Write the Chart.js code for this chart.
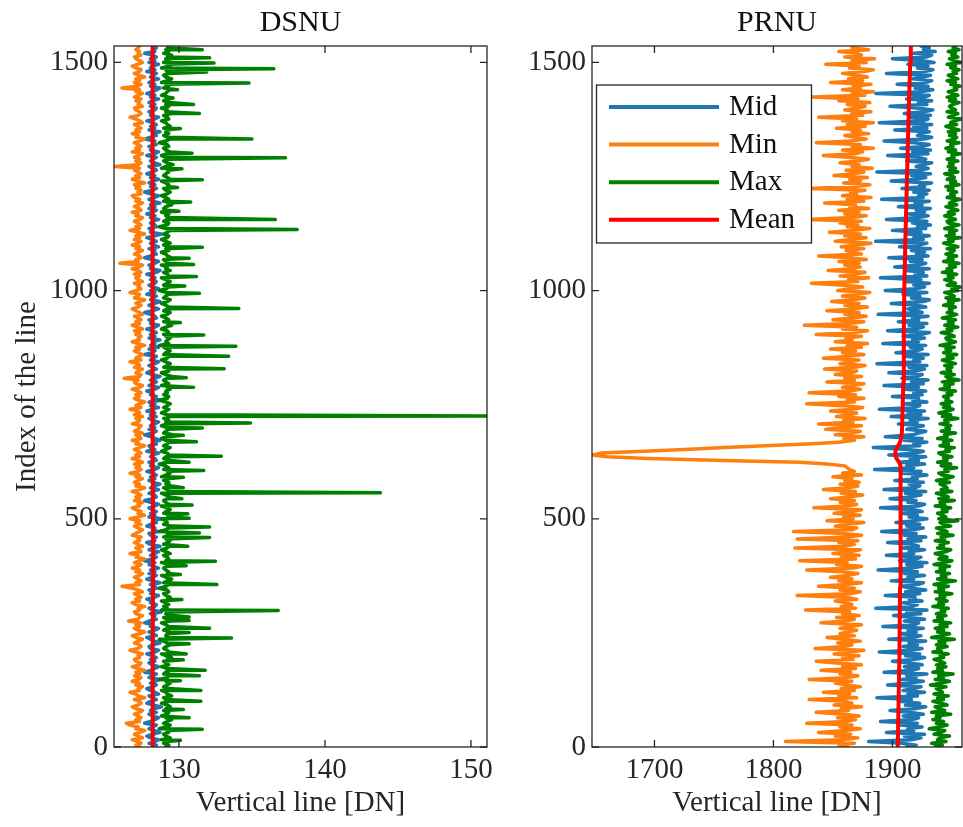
<!DOCTYPE html>
<html lang="en">
<head>
  <meta charset="UTF-8" />
  <title>DSNU / PRNU</title>
  <script src="https://cdn.jsdelivr.net/npm/chart.js"></script>
  <style>
    body { margin: 0; background: #fff; }
    .panel { position: absolute; top: 0; }
    #leftPanel { left: 0; }
    #rightPanel { left: 490px; }
  </style>
</head>
<body>
  <div class="panel" id="leftPanel"><canvas id="dsnuChart" width="500" height="827"></canvas></div>
  <div class="panel" id="rightPanel"><canvas id="prnuChart" width="473" height="827"></canvas></div>

  <script>
    // index of the line (sampled every 4 lines)
    const lineIdx = [
      0, 4, 8, 12, 16, 20, 24, 28, 32, 36, 40, 44, 48, 52, 56, 60,
      64, 68, 72, 76, 80, 84, 88, 92, 96, 100, 104, 108, 112, 116, 120, 124,
      128, 132, 136, 140, 144, 148, 152, 156, 160, 164, 168, 172, 176, 180, 184, 188,
      192, 196, 200, 204, 208, 212, 216, 220, 224, 228, 232, 236, 240, 244, 248, 252,
      256, 260, 264, 268, 272, 276, 280, 284, 288, 292, 296, 300, 304, 308, 312, 316,
      320, 324, 328, 332, 336, 340, 344, 348, 352, 356, 360, 364, 368, 372, 376, 380,
      384, 388, 392, 396, 400, 404, 408, 412, 416, 420, 424, 428, 432, 436, 440, 444,
      448, 452, 456, 460, 464, 468, 472, 476, 480, 484, 488, 492, 496, 500, 504, 508,
      512, 516, 520, 524, 528, 532, 536, 540, 544, 548, 552, 556, 560, 564, 568, 572,
      576, 580, 584, 588, 592, 596, 600, 604, 608, 612, 616, 620, 624, 628, 632, 636,
      640, 644, 648, 652, 656, 660, 664, 668, 672, 676, 680, 684, 688, 692, 696, 700,
      704, 708, 712, 716, 720, 724, 728, 732, 736, 740, 744, 748, 752, 756, 760, 764,
      768, 772, 776, 780, 784, 788, 792, 796, 800, 804, 808, 812, 816, 820, 824, 828,
      832, 836, 840, 844, 848, 852, 856, 860, 864, 868, 872, 876, 880, 884, 888, 892,
      896, 900, 904, 908, 912, 916, 920, 924, 928, 932, 936, 940, 944, 948, 952, 956,
      960, 964, 968, 972, 976, 980, 984, 988, 992, 996, 1000, 1004, 1008, 1012, 1016, 1020,
      1024, 1028, 1032, 1036, 1040, 1044, 1048, 1052, 1056, 1060, 1064, 1068, 1072, 1076, 1080, 1084,
      1088, 1092, 1096, 1100, 1104, 1108, 1112, 1116, 1120, 1124, 1128, 1132, 1136, 1140, 1144, 1148,
      1152, 1156, 1160, 1164, 1168, 1172, 1176, 1180, 1184, 1188, 1192, 1196, 1200, 1204, 1208, 1212,
      1216, 1220, 1224, 1228, 1232, 1236, 1240, 1244, 1248, 1252, 1256, 1260, 1264, 1268, 1272, 1276,
      1280, 1284, 1288, 1292, 1296, 1300, 1304, 1308, 1312, 1316, 1320, 1324, 1328, 1332, 1336, 1340,
      1344, 1348, 1352, 1356, 1360, 1364, 1368, 1372, 1376, 1380, 1384, 1388, 1392, 1396, 1400, 1404,
      1408, 1412, 1416, 1420, 1424, 1428, 1432, 1436, 1440, 1444, 1448, 1452, 1456, 1460, 1464, 1468,
      1472, 1476, 1480, 1484, 1488, 1492, 1496, 1500, 1504, 1508, 1512, 1516, 1520, 1524, 1528, 1532,
      1536
    ];

    // ---- DSNU ----
    const dsnuMid = [
      128.2, 128.45, 127.95, 128.35, 128.6, 128.05, 127.8, 128.2, 128.7, 128.35, 127.95, 128.2, 128.45, 127.65, 128.05, 128.35,
      128.6, 128.2, 127.95, 128.45, 128.05, 128.35, 128.8, 128.2, 127.8, 128.05, 128.45, 128.2, 127.95, 128.6, 128.35, 128.05,
      127.8, 128.2, 128.45, 128.05, 128.35, 128.7, 127.95, 128.2, 128.45, 127.65, 128.05, 128.35, 128.6, 128.2, 127.95, 128.35,
      128.05, 128.45, 128.2, 127.8, 128.35, 128.6, 128.05, 127.95, 128.2, 128.7, 128.35, 128.05, 127.8, 128.45, 128.2, 127.95,
      128.35, 128.6, 128.05, 128.2, 127.65, 127.95, 128.45, 128.2, 128.35, 128.05, 128.8, 128.2, 127.95, 128.35, 128.45, 128.05,
      128.2, 127.8, 128.35, 128.6, 128.05, 128.2, 127.95, 128.45, 128.35, 128.05, 128.7, 128.2, 127.8, 128.2, 128.45, 127.95,
      128.35, 128.05, 128.6, 128.2, 127.95, 128.35, 127.65, 128.2, 128.45, 128.05, 128.35, 128.6, 127.95, 128.2, 128.7, 128.05,
      127.8, 128.35, 128.2, 128.45, 128.05, 127.95, 128.6, 128.2, 128.35, 127.8, 128.05, 128.45, 128.2, 128.8, 127.95, 128.35,
      128.05, 128.45, 128.2, 127.95, 128.35, 128.6, 128.05, 127.65, 128.2, 128.45, 128.35, 127.95, 128.2, 128.6, 128.05, 128.35,
      128.7, 128.2, 127.95, 128.35, 128.05, 128.45, 128.2, 127.8, 128.35, 128.6, 128.05, 128.2, 127.95, 128.45, 128.35, 128.05,
      128.2, 128.6, 127.8, 128.35, 128.05, 127.95, 128.45, 128.2, 128.7, 128.35, 128.05, 127.65, 128.2, 128.45, 127.95, 128.35,
      128.05, 128.35, 128.6, 128.2, 127.95, 128.45, 128.05, 128.35, 127.8, 128.2, 128.6, 128.05, 128.35, 127.95, 128.8, 128.2,
      128.45, 128.05, 128.2, 127.8, 128.35, 128.6, 127.95, 128.2, 128.45, 128.05, 128.35, 128.7, 128.2, 127.8, 128.05, 128.45,
      128.2, 127.95, 128.35, 128.6, 128.05, 128.2, 128.45, 127.65, 128.2, 128.35, 127.95, 128.6, 128.05, 128.35, 128.2, 128.7,
      127.95, 128.35, 128.05, 128.45, 128.2, 127.8, 128.35, 128.6, 128.05, 128.2, 127.95, 128.45, 128.35, 128.05, 127.65, 128.2,
      128.6, 128.2, 127.95, 128.35, 128.7, 128.05, 128.2, 128.45, 127.8, 128.35, 128.05, 128.6, 128.2, 127.95, 128.35, 128.45,
      128.05, 128.35, 128.2, 127.8, 128.45, 128.7, 128.05, 128.2, 127.95, 128.35, 128.6, 128.2, 127.65, 128.05, 128.45, 128.2,
      128.35, 127.95, 128.6, 128.2, 128.05, 128.45, 128.2, 127.8, 128.35, 128.8, 128.05, 128.2, 127.95, 128.45, 128.35, 128.05,
      128.2, 128.6, 128.05, 128.35, 127.8, 128.2, 128.45, 127.95, 128.35, 128.05, 128.7, 128.2, 127.95, 128.35, 128.6, 128.05,
      127.65, 128.2, 128.45, 128.05, 128.35, 127.95, 128.2, 128.6, 128.05, 128.35, 127.8, 128.2, 128.45, 128.2, 127.95, 128.7,
      128.35, 128.05, 128.2, 128.45, 127.8, 128.35, 128.6, 128.05, 128.2, 127.95, 128.45, 128.2, 128.35, 127.65, 128.05, 128.45,
      128.2, 128.7, 127.95, 128.35, 128.05, 128.45, 128.2, 127.8, 128.35, 128.6, 128.05, 128.2, 127.95, 128.35, 128.45, 128.05,
      128.35, 127.95, 128.2, 128.6, 128.05, 128.35, 127.8, 128.2, 128.45, 128.7, 128.05, 128.35, 127.95, 128.2, 128.6, 128.05,
      128.2, 128.45, 127.8, 128.35, 128.05, 128.2, 128.6, 127.95, 128.35, 128.05, 128.45, 128.2, 127.65, 128.35, 128.2, 128.45,
      128.2
    ];
    const dsnuMin = [
      127.3, 127.05, 127.4, 127.2, 126.8, 127.5, 127.2, 126.95, 127.3, 127.65, 127.05, 127.2, 126.65, 126.4, 127.3, 127.05,
      127.4, 127.2, 126.95, 127.3, 127.5, 127.05, 126.8, 127.2, 127.4, 127.3, 126.95, 127.65, 127.2, 127.05, 126.65, 127.3,
      127.2, 127.5, 127.05, 127.3, 126.8, 127.2, 127.4, 126.95, 127.3, 127.05, 127.65, 127.2, 126.8, 127.3, 127.4, 127.05,
      126.95, 127.3, 127.2, 127.5, 127.05, 126.65, 127.2, 127.4, 127.3, 126.95, 127.2, 127.5, 127.05, 126.8, 127.3, 127.65,
      127.2, 126.95, 127.3, 127.05, 127.4, 126.55, 127.2, 127.3, 127.5, 127.05, 126.95, 127.3, 127.2, 127.65, 127.05, 126.8,
      127.3, 127.05, 127.4, 127.2, 126.95, 127.5, 127.2, 126.8, 126.1, 127.3, 127.05, 127.4, 127.2, 126.95, 127.3, 127.5,
      127.05, 127.3, 126.8, 127.2, 127.4, 126.95, 127.3, 127.65, 127.05, 127.2, 126.65, 127.4, 127.3, 127.05, 127.5, 127.2,
      126.95, 127.3, 127.2, 127.4, 126.8, 127.05, 127.3, 127.5, 127.2, 126.95, 127.4, 127.05, 127.3, 126.65, 127.2, 127.65,
      127.2, 127.4, 127.05, 126.8, 127.3, 127.2, 127.5, 126.95, 127.3, 127.05, 127.4, 127.2, 126.8, 127.3, 127.65, 127.05,
      127.3, 126.95, 127.2, 127.5, 127.05, 127.3, 126.65, 127.2, 127.4, 127.05, 127.3, 126.95, 127.5, 127.2, 126.8, 127.3,
      127.05, 127.4, 127.2, 126.95, 127.3, 127.65, 127.05, 127.2, 126.8, 127.4, 127.3, 127.05, 127.5, 126.95, 127.2, 127.3,
      127.4, 126.8, 127.2, 127.3, 127.05, 127.5, 126.95, 127.3, 127.2, 126.65, 127.4, 127.05, 127.3, 127.65, 127.2, 126.95,
      127.3, 127.05, 127.4, 127.2, 126.8, 127.3, 127.5, 127.05, 126.95, 127.2, 126.25, 127.3, 127.4, 127.05, 127.2, 127.5,
      126.95, 127.3, 127.2, 126.65, 127.4, 127.05, 127.3, 127.5, 127.2, 126.95, 127.3, 127.05, 127.65, 127.2, 126.8, 127.3,
      127.2, 127.4, 127.05, 127.3, 126.95, 127.5, 127.2, 126.8, 127.3, 127.05, 127.4, 127.2, 126.95, 127.5, 127.3, 127.05,
      126.8, 127.2, 127.4, 127.05, 127.3, 127.65, 126.95, 127.2, 127.3, 126.65, 127.05, 127.4, 127.2, 127.3, 126.95, 127.5,
      127.2, 127.05, 127.3, 126.95, 127.4, 127.2, 126.8, 127.3, 127.5, 125.95, 127.2, 127.05, 127.4, 127.3, 126.95, 127.2,
      127.5, 127.05, 127.3, 126.8, 127.2, 127.4, 126.95, 127.3, 127.05, 127.65, 127.2, 126.65, 127.3, 127.05, 127.4, 127.2,
      126.95, 127.3, 127.5, 127.05, 127.2, 126.8, 127.4, 127.3, 126.95, 127.2, 127.5, 127.05, 127.3, 126.95, 126.8, 127.4,
      127.2, 127.4, 127.05, 127.3, 126.95, 127.65, 127.2, 126.8, 127.3, 127.05, 127.4, 127.2, 126.95, 127.3, 125.55, 127.2,
      127.4, 127.05, 127.3, 126.95, 127.2, 127.5, 126.8, 127.3, 127.05, 127.4, 127.2, 126.95, 127.3, 127.65, 127.05, 127.2,
      126.8, 127.3, 127.05, 127.4, 127.2, 126.95, 127.5, 127.3, 127.05, 126.65, 127.2, 127.4, 127.3, 127.05, 126.95, 127.5,
      127.2, 127.3, 127.05, 127.4, 126.95, 127.2, 127.5, 127.05, 127.3, 126.1, 127.2, 127.4, 126.95, 127.3, 127.05, 127.65,
      127.2, 126.95, 127.3, 127.4, 127.05, 126.8, 127.2, 127.5, 127.3, 127.05, 126.95, 127.4, 127.2, 127.3, 127.05, 127.2,
      127.3
    ];
    const dsnuMax = [
      129.1, 129.3, 128.95, 129.2, 128.8, 129.4, 129.1, 128.95, 129.3, 129.2, 128.65, 129.1, 129.4, 128.95, 129.2, 129.5,
      129.1, 128.8, 129.2, 129.3, 128.95, 129.1, 129.4, 129.2, 128.8, 129.3, 129.1, 128.95, 129.5, 129.2, 129.1, 128.8,
      129.3, 128.95, 129.2, 129.4, 129.1, 128.65, 129.2, 129.3, 128.95, 129.1, 129.4, 129.2, 128.8, 129.3, 129.1, 128.95,
      129.2, 129.5, 129.1, 128.8, 129.3, 129.2, 128.95, 129.1, 129.4, 129.2, 128.95, 128.65, 129.3, 129.1, 129.2, 129.4,
      128.95, 129.2, 129.3, 129.1, 128.8, 129.4, 129.2, 128.95, 129.6, 129.1, 129.3, 128.8, 129.2, 128.95, 129.3, 129.1,
      128.8, 129.2, 129.4, 129.1, 128.95, 129.3, 129.2, 128.65, 129.1, 129.3, 128.95, 129.2, 129.5, 129.1, 128.8, 129.2,
      129.3, 129.1, 128.95, 129.2, 129.4, 128.8, 129.1, 129.3, 129.2, 128.95, 129.4, 129.1, 128.8, 129.2, 129.3, 128.95,
      129.2, 129.4, 129.1, 128.95, 129.3, 129.2, 128.65, 129.1, 129.3, 129.5, 128.95, 129.2, 129.1, 128.8, 129.3, 129.2,
      128.95, 129.1, 129.4, 129.2, 128.8, 129.3, 129.1, 128.95, 129.2, 129.4, 129.1, 128.8, 129.3, 129.2, 128.95, 129.5,
      129.1, 129.3, 128.95, 129.2, 128.8, 129.1, 129.4, 129.2, 128.95, 129.3, 129.1, 128.65, 129.2, 129.4, 128.95, 129.1,
      129.3, 129.2, 128.8, 129.1, 129.4, 128.95, 129.2, 129.3, 129.1, 128.8, 129.2, 129.6, 128.95, 129.1, 129.3, 129.2,
      128.8, 129.2, 129.1, 129.3, 128.95, 129.4, 129.2, 128.8, 129.1, 129.3, 128.95, 129.2, 129.4, 129.1, 128.65, 129.2,
      129.3, 128.95, 129.2, 129.1, 129.4, 129.2, 128.8, 129.3, 129.1, 128.95, 129.2, 129.5, 129.1, 128.8, 129.3, 129.2,
      128.95, 129.2, 129.4, 129.1, 128.8, 129.2, 129.3, 128.95, 129.1, 129.4, 129.2, 128.95, 128.65, 129.3, 129.1, 129.2,
      129.4, 129.1, 128.95, 129.3, 129.2, 128.8, 129.1, 129.5, 129.2, 128.95, 129.3, 129.1, 128.8, 129.2, 129.4, 128.95,
      129.2, 129.3, 129.1, 128.8, 129.2, 129.4, 128.95, 129.1, 129.3, 129.2, 128.65, 129.1, 129.3, 128.95, 129.2, 129.4,
      129.1, 128.8, 129.3, 129.2, 128.95, 129.4, 129.1, 129.2, 128.8, 129.3, 129.1, 128.95, 129.5, 129.2, 129.1, 128.8,
      129.3, 129.1, 129.2, 128.95, 129.4, 129.1, 128.8, 129.2, 129.3, 128.95, 129.2, 129.4, 129.1, 128.65, 129.2, 129.3,
      128.95, 129.2, 129.4, 129.1, 129.3, 128.8, 129.2, 128.95, 129.1, 129.5, 129.2, 128.95, 129.3, 129.1, 128.8, 129.2,
      129.4, 129.1, 128.95, 129.2, 129.3, 129.1, 128.8, 129.4, 129.2, 128.95, 129.1, 129.3, 129.2, 128.8, 129.1, 129.6,
      129.2, 128.95, 129.3, 129.1, 128.8, 129.2, 129.4, 129.1, 128.95, 129.3, 129.2, 128.65, 129.1, 129.4, 129.2, 128.95,
      129.3, 129.1, 129.2, 128.95, 129.4, 129.2, 129.1, 128.8, 129.3, 129.2, 128.95, 129.5, 129.1, 129.2, 128.8, 129.3,
      129.1, 129.4, 128.95, 129.2, 129.3, 128.8, 129.1, 129.2, 129.4, 128.95, 129.3, 129.1, 128.8, 129.2, 129.5, 129.1,
      128.95, 129.3, 129.2, 129.1, 128.8, 129.4, 129.2, 128.95, 129.3, 129.1, 129.2, 129.5, 128.95, 129.3, 129.1, 129.2,
      129.3
    ];
    // single-line spikes of the Max curve
    const dsnuMaxSpikeIdx = [
      15, 39, 64, 82, 100, 124, 145, 156, 168, 191, 204, 226, 239, 251, 260, 277, 285, 299, 323, 356,
      378, 397, 407, 440, 459, 469, 482, 501, 511, 530, 544, 557, 568, 591, 606, 624, 637, 669, 683, 699,
      710, 725, 788, 809, 829, 856, 878, 903, 930, 961, 994, 1010, 1031, 1057, 1071, 1095, 1134, 1156, 1174, 1194,
      1226, 1243, 1267, 1291, 1301, 1332, 1355, 1388, 1408, 1422, 1440, 1455, 1479, 1486, 1499, 1510, 1528
    ];
    const dsnuMaxSpikeVal = [
      130.1, 131.6, 130.7, 130.3, 131.5, 131.5, 130.1, 131.4, 131.8, 130.3, 130.5, 130.7, 133.6, 130.7, 132.1, 130.7, 130.7, 136.8, 130.2, 132.6,
      130.1, 130.5, 132.5, 130.6, 132.1, 131.4, 132.1, 130.7, 130.6, 130.9, 130.2, 143.8, 130.3, 130.3, 131.7, 130.7, 132.9, 131.2, 130.3, 131.6,
      134.9, 151.1, 131.0, 130.5, 133.1, 133.4, 133.9, 131.7, 130.1, 134.1, 131.4, 130.4, 131.2, 131.0, 130.7, 131.6, 138.1, 136.6, 130.0, 130.8,
      129.9, 131.6, 130.2, 137.3, 130.9, 135.0, 130.1, 131.4, 131.0, 129.6, 129.9, 134.8, 131.9, 136.5, 132.4, 132.1, 131.6
    ];
    const dsnuMeanIdx = [0, 200, 400, 600, 800, 1000, 1200, 1400, 1536];
    const dsnuMean = [128.21, 128.20, 128.23, 128.21, 128.19, 128.22, 128.18, 128.20, 128.17];

    // ---- PRNU ----
    const prnuMid = [
      1912, 1920, 1908, 1880, 1916, 1924, 1910, 1927, 1895, 1918, 1913, 1925, 1907, 1921, 1890, 1917,
      1922, 1909, 1926, 1914, 1898, 1919, 1928, 1911, 1923, 1906, 1916, 1887, 1921, 1913, 1927, 1909,
      1918, 1924, 1896, 1915, 1926, 1908, 1920, 1912, 1929, 1893, 1917, 1922, 1910, 1925, 1914, 1900,
      1919, 1927, 1911, 1923, 1889, 1916, 1925, 1909, 1921, 1914, 1928, 1897, 1918, 1924, 1907, 1920,
      1913, 1926, 1892, 1919, 1922, 1910, 1927, 1915, 1901, 1924, 1912, 1929, 1886, 1917, 1921, 1909,
      1925, 1914, 1919, 1894, 1923, 1911, 1928, 1916, 1908, 1921, 1926, 1899, 1918, 1913, 1927, 1910,
      1921, 1888, 1916, 1925, 1912, 1929, 1906, 1920, 1924, 1895, 1918, 1914, 1927, 1909, 1922, 1917,
      1896, 1924, 1913, 1928, 1910, 1920, 1891, 1917, 1926, 1912, 1923, 1903, 1919, 1929, 1914, 1921,
      1908, 1925, 1918, 1890, 1922, 1927, 1913, 1920, 1898, 1916, 1924, 1911, 1928, 1893, 1919, 1923,
      1914, 1926, 1902, 1921, 1917, 1929, 1909, 1924, 1885, 1918, 1912, 1927, 1906, 1922, 1915, 1928,
      1897, 1920, 1926, 1913, 1884, 1923, 1918, 1929, 1910, 1925, 1894, 1917, 1922, 1928, 1912, 1919,
      1926, 1905, 1921, 1915, 1930, 1899, 1924, 1913, 1927, 1889, 1919, 1923, 1910, 1929, 1917, 1922,
      1900, 1925, 1918, 1928, 1911, 1922, 1893, 1926, 1916, 1930, 1908, 1921, 1925, 1897, 1919, 1927,
      1914, 1929, 1887, 1923, 1918, 1926, 1911, 1930, 1903, 1920, 1925, 1915, 1928, 1892, 1922, 1917,
      1927, 1909, 1924, 1931, 1896, 1919, 1926, 1914, 1929, 1905, 1922, 1917, 1930, 1888, 1925, 1920,
      1913, 1928, 1921, 1899, 1926, 1931, 1916, 1923, 1909, 1929, 1894, 1920, 1927, 1918, 1931, 1911,
      1924, 1890, 1929, 1919, 1926, 1912, 1931, 1902, 1922, 1928, 1915, 1925, 1897, 1930, 1920, 1927,
      1916, 1932, 1906, 1923, 1929, 1886, 1926, 1918, 1931, 1913, 1924, 1900, 1928, 1921, 1932, 1917,
      1929, 1895, 1922, 1930, 1914, 1927, 1920, 1932, 1905, 1925, 1919, 1931, 1891, 1926, 1922, 1929,
      1918, 1931, 1908, 1927, 1923, 1933, 1899, 1921, 1928, 1916, 1932, 1887, 1925, 1930, 1920, 1926,
      1933, 1912, 1928, 1922, 1896, 1930, 1917, 1932, 1907, 1926, 1931, 1919, 1893, 1927, 1933, 1921,
      1924, 1931, 1902, 1929, 1918, 1933, 1889, 1926, 1930, 1915, 1932, 1910, 1927, 1934, 1920, 1898,
      1929, 1922, 1933, 1912, 1927, 1931, 1886, 1925, 1934, 1919, 1930, 1904, 1928, 1933, 1917, 1926,
      1932, 1895, 1927, 1934, 1921, 1930, 1913, 1935, 1924, 1900, 1929, 1933, 1918, 1936, 1926, 1931,
      1924
    ];
    const prnuMin = [
      1862, 1855, 1868, 1810, 1858, 1871, 1852, 1865, 1838, 1860, 1873, 1856, 1866, 1828, 1861, 1869,
      1854, 1872, 1859, 1836, 1863, 1857, 1874, 1851, 1866, 1860, 1830, 1870, 1855, 1864, 1842, 1868,
      1857, 1873, 1861, 1852, 1866, 1830, 1862, 1871, 1856, 1865, 1840, 1869, 1858, 1874, 1853, 1836,
      1867, 1858, 1872, 1851, 1864, 1876, 1835, 1860, 1866, 1854, 1873, 1859, 1845, 1868, 1856, 1862,
      1870, 1856, 1865, 1874, 1840, 1861, 1868, 1853, 1872, 1858, 1864, 1827, 1869, 1857, 1866, 1862,
      1852, 1870, 1860, 1820, 1865, 1873, 1856, 1868, 1838, 1861, 1874, 1855, 1866, 1848, 1863, 1871,
      1858, 1828, 1867, 1874, 1853, 1862, 1822, 1869, 1857, 1872, 1850, 1864, 1873, 1818, 1860, 1868,
      1855, 1871, 1820, 1863, 1874, 1858, 1817, 1866, 1870, 1852, 1862, 1876, 1845, 1867, 1859, 1873,
      1851, 1866, 1874, 1834, 1862, 1870, 1856, 1868, 1848, 1864, 1875, 1857, 1869, 1842, 1863, 1871,
      1856, 1872, 1860, 1866, 1850, 1874, 1858, 1868, 1864, 1862, 1860, 1845, 1822, 1758, 1695, 1660,
      1648, 1655, 1691, 1725, 1759, 1793, 1828, 1855, 1868, 1859, 1876, 1852, 1866, 1873, 1844, 1862,
      1874, 1838, 1867, 1859, 1877, 1853, 1864, 1870, 1848, 1866, 1875, 1858, 1828, 1868, 1862, 1876,
      1855, 1869, 1830, 1864, 1873, 1858, 1866, 1876, 1845, 1868, 1860, 1874, 1852, 1866, 1870, 1843,
      1868, 1877, 1856, 1864, 1872, 1842, 1863, 1876, 1858, 1869, 1848, 1874, 1862, 1879, 1852, 1866,
      1861, 1874, 1836, 1867, 1879, 1858, 1870, 1826, 1863, 1876, 1850, 1866, 1878, 1860, 1872, 1845,
      1868, 1879, 1860, 1872, 1849, 1866, 1877, 1858, 1870, 1881, 1854, 1864, 1875, 1859, 1832, 1871,
      1863, 1880, 1856, 1869, 1877, 1846, 1866, 1873, 1860, 1872, 1855, 1878, 1864, 1838, 1874, 1868,
      1861, 1876, 1857, 1870, 1882, 1852, 1866, 1878, 1860, 1873, 1847, 1867, 1881, 1862, 1871, 1856,
      1874, 1828, 1866, 1878, 1860, 1872, 1855, 1880, 1864, 1869, 1843, 1876, 1862, 1882, 1858, 1870,
      1865, 1877, 1830, 1869, 1881, 1859, 1873, 1864, 1879, 1851, 1868, 1876, 1861, 1883, 1866, 1872,
      1856, 1871, 1880, 1862, 1842, 1869, 1875, 1858, 1884, 1866, 1873, 1836, 1864, 1878, 1869, 1860,
      1880, 1866, 1873, 1853, 1877, 1862, 1884, 1858, 1870, 1838, 1875, 1866, 1882, 1860, 1871, 1877,
      1862, 1881, 1855, 1871, 1833, 1877, 1866, 1884, 1858, 1873, 1867, 1882, 1848, 1875, 1863, 1879,
      1869, 1858, 1876, 1884, 1864, 1872, 1844, 1878, 1866, 1885, 1860, 1874, 1870, 1855, 1880, 1866,
      1868
    ];
    const prnuMax = [
      1936, 1942, 1933, 1945, 1938, 1940, 1948, 1935, 1941, 1944, 1931, 1939, 1946, 1937, 1943, 1934,
      1940, 1937, 1949, 1933, 1944, 1939, 1936, 1946, 1941, 1934, 1943, 1938, 1947, 1935, 1942, 1940,
      1937, 1945, 1932, 1941, 1948, 1936, 1943, 1939, 1951, 1934, 1942, 1938, 1945, 1937, 1944, 1940,
      1935, 1943, 1940, 1947, 1934, 1941, 1938, 1946, 1937, 1944, 1939, 1952, 1933, 1942, 1948, 1938,
      1943, 1936, 1946, 1940, 1949, 1935, 1942, 1938, 1945, 1937, 1944, 1941, 1947, 1934, 1943, 1939,
      1946, 1937, 1944, 1940, 1950, 1936, 1943, 1939, 1947, 1935, 1942, 1953, 1938, 1945, 1941, 1948,
      1937, 1944, 1940, 1948, 1935, 1943, 1950, 1939, 1946, 1941, 1936, 1945, 1949, 1938, 1943, 1940,
      1947, 1936, 1944, 1941, 1951, 1938, 1946, 1942, 1937, 1949, 1943, 1940, 1955, 1939, 1945, 1942,
      1938, 1946, 1942, 1949, 1936, 1944, 1940, 1952, 1939, 1947, 1943, 1937, 1950, 1941, 1946, 1944,
      1940, 1948, 1937, 1945, 1951, 1942, 1939, 1947, 1944, 1954, 1941, 1949, 1938, 1946, 1943, 1950,
      1942, 1939, 1948, 1945, 1952, 1940, 1947, 1943, 1950, 1938, 1946, 1944, 1953, 1941, 1948, 1945,
      1949, 1940, 1947, 1944, 1955, 1942, 1949, 1939, 1946, 1951, 1943, 1948, 1941, 1950, 1945, 1947,
      1943, 1950, 1946, 1953, 1940, 1948, 1944, 1951, 1942, 1956, 1947, 1945, 1952, 1941, 1949, 1946,
      1950, 1944, 1953, 1947, 1942, 1951, 1946, 1954, 1943, 1949, 1945, 1952, 1940, 1948, 1953, 1946,
      1945, 1952, 1948, 1941, 1950, 1946, 1955, 1944, 1951, 1947, 1953, 1942, 1949, 1954, 1946, 1950,
      1948, 1953, 1943, 1951, 1947, 1956, 1945, 1952, 1949, 1944, 1955, 1950, 1957, 1946, 1953, 1949,
      1944, 1951, 1947, 1954, 1942, 1950, 1946, 1953, 1948, 1956, 1943, 1951, 1947, 1954, 1945, 1950,
      1952, 1946, 1955, 1949, 1943, 1951, 1947, 1957, 1945, 1952, 1948, 1954, 1944, 1950, 1956, 1947,
      1946, 1953, 1949, 1944, 1952, 1947, 1955, 1950, 1945, 1954, 1948, 1951, 1957, 1946, 1952, 1949,
      1954, 1947, 1951, 1945, 1956, 1949, 1953, 1946, 1952, 1950, 1944, 1955, 1948, 1953, 1947, 1951,
      1948, 1955, 1946, 1952, 1950, 1957, 1947, 1953, 1945, 1951, 1949, 1956, 1946, 1952, 1954, 1948,
      1953, 1947, 1956, 1950, 1945, 1954, 1949, 1952, 1958, 1947, 1951, 1955, 1946, 1953, 1950, 1948,
      1951, 1956, 1948, 1953, 1946, 1955, 1950, 1947, 1954, 1952, 1957, 1949, 1953, 1946, 1955, 1950,
      1947, 1954, 1951, 1956, 1949, 1953, 1946, 1958, 1952, 1948, 1955, 1950, 1953, 1947, 1956, 1951,
      1953
    ];
    const prnuMeanIdx = [0, 200, 350, 500, 600, 616, 624, 632, 640, 648, 656, 664, 672, 690, 800, 900, 1000, 1100, 1200, 1300, 1400, 1500, 1536];
    const prnuMean = [1904.5, 1905.9, 1906.4, 1907, 1907.1, 1906.5, 1905.6, 1903.5, 1902.3, 1902.5, 1903.7, 1905.8, 1907, 1908, 1909.2, 1909.6, 1910, 1910.8, 1911.8, 1912.8, 1913.8, 1915, 1915.5];

    const seriesLabels = ['Mid', 'Min', 'Max', 'Mean'];
    const seriesColors = ['#1f77b4', '#ff7f0e', '#008000', '#ff0000'];

    const serif = "'Liberation Serif', 'Times New Roman', serif";
    const axisColor = '#262626';

    function toPoints(idx, vals) {
      return idx.map((y, i) => ({ x: vals[i], y: y }));
    }

    function addSpikes(points, idx, vals) {
      return points.concat(toPoints(idx, vals)).sort((a, b) => a.y - b.y);
    }

    function lineSet(i, data, width) {
      return {
        label: seriesLabels[i],
        data: data,
        showLine: true,
        borderColor: seriesColors[i],
        backgroundColor: seriesColors[i],
        borderWidth: width,
        borderJoinStyle: 'round',
        borderCapStyle: 'round',
        pointRadius: 0,
        pointHoverRadius: 0,
        fill: false,
        clip: 0,
        order: 4 - i   // Mean drawn last (on top)
      };
    }

    // box around the axes with inward ticks on all four sides
    const axesFrame = {
      id: 'axesFrame',
      afterDatasetsDraw(chart) {
        const { ctx, chartArea: a, scales: { x, y } } = chart;
        ctx.save();
        ctx.strokeStyle = axisColor;
        ctx.lineWidth = 1.3;
        ctx.strokeRect(a.left, a.top, a.right - a.left, a.bottom - a.top);
        ctx.beginPath();
        x.ticks.forEach(t => {
          const px = x.getPixelForValue(t.value);
          ctx.moveTo(px, a.bottom); ctx.lineTo(px, a.bottom - 7);
          ctx.moveTo(px, a.top); ctx.lineTo(px, a.top + 7);
        });
        y.ticks.forEach(t => {
          const py = y.getPixelForValue(t.value);
          ctx.moveTo(a.left, py); ctx.lineTo(a.left + 7, py);
          ctx.moveTo(a.right, py); ctx.lineTo(a.right - 7, py);
        });
        ctx.stroke();
        ctx.restore();
      }
    };

    function panelTitle(text) {
      return {
        id: 'panelTitle',
        afterDraw(chart) {
          const { ctx, chartArea: a } = chart;
          ctx.save();
          ctx.font = '30px ' + serif;
          ctx.fillStyle = '#111';
          ctx.textAlign = 'center';
          ctx.textBaseline = 'alphabetic';
          ctx.fillText(text, (a.left + a.right) / 2, 31);
          ctx.restore();
        }
      };
    }

    // legend box in the upper left of the PRNU axes
    const legendBox = {
      id: 'legendBox',
      afterDraw(chart) {
        const ctx = chart.ctx;
        ctx.save();
        ctx.fillStyle = '#fff';
        ctx.fillRect(106.5, 85, 215, 158);
        ctx.strokeStyle = axisColor;
        ctx.lineWidth = 1.3;
        ctx.strokeRect(106.5, 85, 215, 158);
        ctx.font = '29px ' + serif;
        ctx.textBaseline = 'alphabetic';
        ctx.textAlign = 'left';
        chart.data.datasets.forEach((ds, i) => {
          const base = 115 + i * 37.6;
          ctx.strokeStyle = ds.borderColor;
          ctx.lineWidth = 4;
          ctx.beginPath();
          ctx.moveTo(119, base - 8);
          ctx.lineTo(229, base - 8);
          ctx.stroke();
          ctx.fillStyle = '#111';
          ctx.fillText(ds.label, 239, base);
        });
        ctx.restore();
      }
    };

    function makeChart(canvasId, cfg) {
      const tickFont = { family: serif, size: 29 };
      return new Chart(document.getElementById(canvasId), {
        type: 'scatter',
        data: { datasets: cfg.datasets },
        options: {
          responsive: false,
          animation: false,
          devicePixelRatio: 1,
          events: [],
          layout: { padding: { top: 46, right: cfg.padRight, left: 0, bottom: 0 } },
          plugins: { legend: { display: false }, tooltip: { enabled: false } },
          scales: {
            x: {
              type: 'linear',
              min: cfg.xMin,
              max: cfg.xMax,
              grid: { display: false, drawTicks: false },
              border: { display: false },
              afterBuildTicks: s => { s.ticks = cfg.xTicks.map(v => ({ value: v })); },
              afterFit: s => { s.height = 80; },
              ticks: { font: tickFont, color: axisColor, padding: 6, maxRotation: 0, autoSkip: false, callback: v => String(v) },
              title: { display: true, text: 'Vertical line [DN]', font: tickFont, color: axisColor, padding: { top: 0, bottom: 6 } }
            },
            y: {
              type: 'linear',
              min: 0,
              max: 1536,
              grid: { display: false, drawTicks: false },
              border: { display: false },
              afterBuildTicks: s => { s.ticks = [0, 500, 1000, 1500].map(v => ({ value: v })); },
              afterFit: s => { s.width = cfg.yWidth; },
              ticks: { font: tickFont, color: axisColor, padding: 6, autoSkip: false, callback: v => String(v) },
              title: { display: cfg.yTitle, text: 'Index of the line', font: tickFont, color: axisColor, padding: { top: 10, bottom: 0 } }
            }
          }
        },
        plugins: cfg.plugins
      });
    }

    makeChart('dsnuChart', {
      xMin: 125.55, xMax: 151.1, xTicks: [130, 140, 150],
      padRight: 13, yWidth: 114, yTitle: true,
      datasets: [
        lineSet(0, toPoints(lineIdx, dsnuMid), 3.5),
        lineSet(1, toPoints(lineIdx, dsnuMin), 3.5),
        lineSet(2, addSpikes(toPoints(lineIdx, dsnuMax), dsnuMaxSpikeIdx, dsnuMaxSpikeVal), 3.5),
        lineSet(3, toPoints(dsnuMeanIdx, dsnuMean), 4)
      ],
      plugins: [axesFrame, panelTitle('DSNU')]
    });

    makeChart('prnuChart', {
      xMin: 1647.5, xMax: 1958.5, xTicks: [1700, 1800, 1900],
      padRight: 1, yWidth: 102, yTitle: false,
      datasets: [
        lineSet(0, toPoints(lineIdx, prnuMid), 3.5),
        lineSet(1, toPoints(lineIdx, prnuMin), 3.5),
        lineSet(2, toPoints(lineIdx, prnuMax), 3.5),
        lineSet(3, toPoints(prnuMeanIdx, prnuMean), 4)
      ],
      plugins: [axesFrame, panelTitle('PRNU'), legendBox]
    });
  </script>
</body>
</html>
